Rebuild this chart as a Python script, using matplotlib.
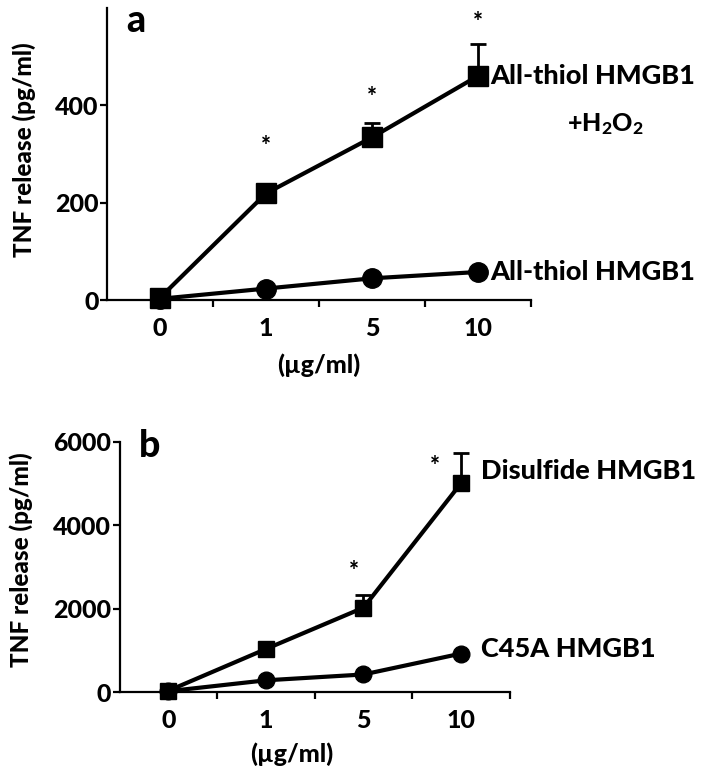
import numpy as np
import matplotlib
matplotlib.use("Agg")
import matplotlib.pyplot as plt

plt.rcParams['font.family'] = ['Lato', 'DejaVu Sans']
plt.rcParams['font.weight'] = 900
plt.rcParams['mathtext.fontset'] = 'custom'
plt.rcParams['mathtext.rm'] = 'Lato:black'
plt.rcParams['mathtext.default'] = 'rm'

doses = ['0', '1', '5', '10']

# panel a
thiol_h2o2 = [5, 219, 334, 460]
thiol_h2o2_err = [0, 8, 30, 65]
thiol = [3, 24, 45, 58]
stars_a = [None, 316, 416, 570]

# panel b
disulfide = [30, 1030, 2020, 5000]
disulfide_err = [0, 60, 300, 720]
c45a = [20, 280, 420, 920]
stars_b = [None, None, 2880, 5400]

W = 900
fig = plt.figure(figsize=(7.08, 7.66), dpi=100)
ax_a = fig.add_axes([0.151, 0.608, 0.599, 0.382])
ax_b = fig.add_axes([0.169, 0.0966, 0.551, 0.327])

x = np.arange(len(doses))


def style(ax, ymax, yticks):
    ax.set_xlim(-0.5, 3.5)
    ax.set_ylim(0, ymax)
    ax.spines['top'].set_visible(False)
    ax.spines['right'].set_visible(False)
    ax.spines['left'].set_linewidth(1.6)
    ax.spines['bottom'].set_linewidth(1.6)
    ax.set_xticks(x)
    ax.set_xticklabels(doses, fontweight=W)
    ax.set_xticks([0.5, 1.5, 2.5, 3.5], minor=True)
    ax.tick_params(axis='x', which='major', length=0, pad=12, labelsize=18)
    ax.tick_params(axis='x', which='minor', length=5, width=1.6)
    ax.set_yticks(yticks)
    ax.set_yticklabels([str(t) for t in yticks], fontweight=W)
    ax.tick_params(axis='y', length=5, width=1.6, labelsize=18, pad=1)
    ax.set_xlabel('(µg/ml)', fontsize=18, fontweight=W, labelpad=10)
    ax.set_ylabel('TNF release (pg/ml)', fontsize=17.5, fontweight=W)
    ax.patch.set_alpha(0)


# panel a
ax_a.errorbar(x, thiol_h2o2, yerr=[np.zeros(4), thiol_h2o2_err], color='black',
              lw=3, marker='s', ms=14, capsize=6, elinewidth=2, capthick=2,
              clip_on=False, zorder=3)
ax_a.plot(x, thiol, color='black', lw=3, marker='o', ms=14, clip_on=False, zorder=3)
for xi, s in zip(x, stars_a):
    if s is not None:
        ax_a.text(xi, s, '*', ha='center', va='center', fontsize=17, fontweight=W)
style(ax_a, 600, [0, 200, 400])
ax_a.yaxis.set_label_coords(-0.168, 0.513)
ax_a.text(3.12, thiol_h2o2[3], 'All-thiol HMGB1', ha='left', va='center', fontsize=19.5,
          fontweight=W, clip_on=False)
ax_a.text(4.2, thiol_h2o2[3] - 98, '+H$_2$O$_2$', ha='center', va='center',
          fontsize=18, fontweight=W, clip_on=False)
ax_a.text(3.12, thiol[3], 'All-thiol HMGB1', ha='left', va='center', fontsize=19.5,
          fontweight=W, clip_on=False)
ax_a.text(-0.32, 572, 'a', fontsize=27, fontweight=W, ha='left', va='center',
          clip_on=False)

# panel b
ax_b.errorbar(x, disulfide, yerr=[np.zeros(4), disulfide_err], color='black',
              lw=3, marker='s', ms=12, capsize=6, elinewidth=2, capthick=2,
              clip_on=False, zorder=3)
ax_b.plot(x, c45a, color='black', lw=3, marker='o', ms=12, clip_on=False, zorder=3)
for xi, s in zip(x, stars_b):
    if s is not None:
        dx = -0.27 if xi == 3 else -0.1
        ax_b.text(xi + dx, s, '*', ha='center', va='center', fontsize=17, fontweight=W)
style(ax_b, 6000, [0, 2000, 4000, 6000])
ax_b.yaxis.set_label_coords(-0.222, 0.53)
ax_b.xaxis.set_label_coords(0.44, -0.2)
ax_b.text(3.2, disulfide[3] + 300, 'Disulfide HMGB1', ha='left', va='center',
          fontsize=19.5, fontweight=W, clip_on=False)
ax_b.text(3.2, c45a[3] + 100, 'C45A HMGB1', ha='left', va='center', fontsize=19.5,
          fontweight=W, clip_on=False)
ax_b.text(-0.3, 5900, 'b', fontsize=27, fontweight=W, ha='left', va='center',
          clip_on=False)

fig.savefig('out.png', dpi=100)
